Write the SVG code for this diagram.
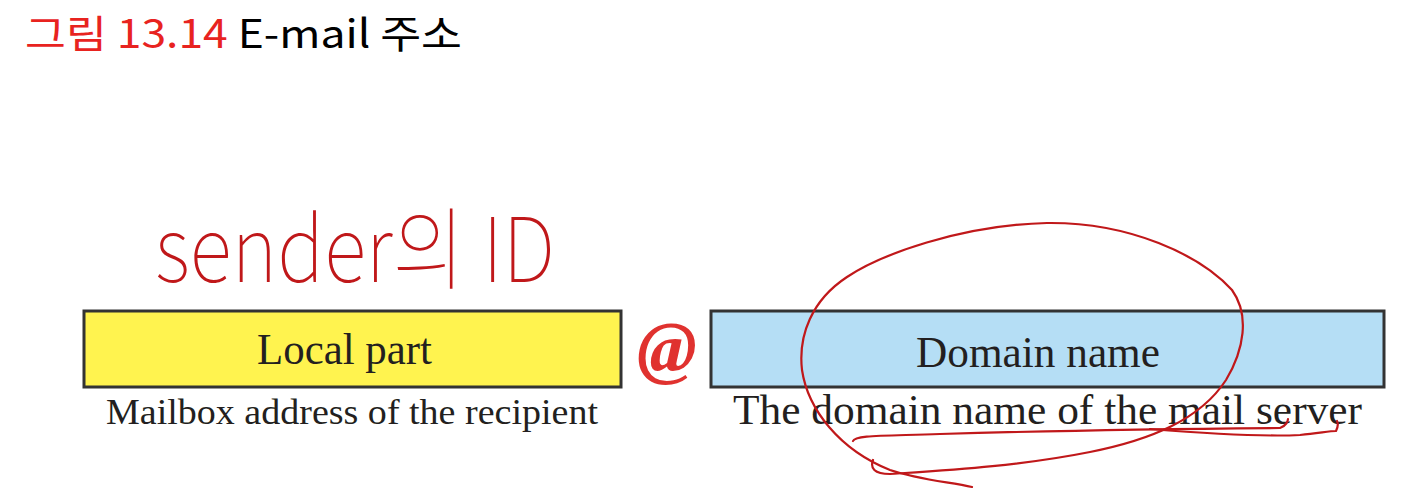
<svg xmlns="http://www.w3.org/2000/svg" width="1420" height="504" viewBox="0 0 1420 504">
<style>
.box{stroke:#333;stroke-width:3}
.serif{font-family:"Liberation Serif","Times New Roman",serif;fill:#231f20}
.ink{fill:none;stroke:#c0181a;stroke-width:2.2;stroke-linecap:round;stroke-linejoin:round}
</style>
<rect width="1420" height="504" fill="#fff"/>
<g id="title">
<text x="25" y="48" font-family="'Noto Sans CJK KR',sans-serif" font-size="39" font-weight="400" textLength="437" lengthAdjust="spacingAndGlyphs"><tspan fill="#e8231f">그림 13.14</tspan><tspan fill="#000"> E-mail 주소</tspan></text>
</g>
<g id="local">
<rect class="box" x="84" y="311" width="537" height="76" fill="#fff34f"/>
<text class="serif" x="257" y="364" font-size="44" textLength="175" lengthAdjust="spacingAndGlyphs">Local part</text>
<text class="serif" x="106" y="424" font-size="36" textLength="492" lengthAdjust="spacingAndGlyphs">Mailbox address of the recipient</text>
</g>
<g id="at">
<text x="667" y="371" font-family="'Liberation Serif',serif" font-size="72" font-weight="bold" font-style="italic" fill="#e0322f" text-anchor="middle">@</text>
</g>
<g id="domain">
<rect class="box" x="711" y="311" width="673" height="76" fill="#b5def5"/>
<text class="serif" x="916" y="367" font-size="44" textLength="244" lengthAdjust="spacingAndGlyphs">Domain name</text>
<text class="serif" x="733" y="424" font-size="42" textLength="629" lengthAdjust="spacingAndGlyphs">The domain name of the mail server</text>
</g>
<g id="annotations">
<text x="155" y="282" font-family="'Noto Sans CJK KR',sans-serif" font-size="90" font-weight="100" fill="#c0181a" textLength="400" lengthAdjust="spacingAndGlyphs">sender의 ID</text>
<path class="ink" d="M1047,223 C1130,222 1200,255 1232,290 C1250,315 1244,350 1226,380 C1200,420 1150,440 1090,452 C1020,466 950,470 890,474 C874,474 870,468 873,460"/>
<path class="ink" d="M1047,223 C960,225 880,255 847,277 C812,300 798,335 802,370 C808,410 840,450 890,470 C920,480 950,482 972,487"/>
<path class="ink" d="M853,441 C855,435 880,436 940,434 C1040,431 1160,429 1280,428 C1286,426 1288,421 1288,419"/>
<path class="ink" d="M1150,429 C1200,433 1260,437 1300,435 C1320,433 1330,431 1336,431 C1338,427 1338,423 1337,421"/>
</g>
</svg>
